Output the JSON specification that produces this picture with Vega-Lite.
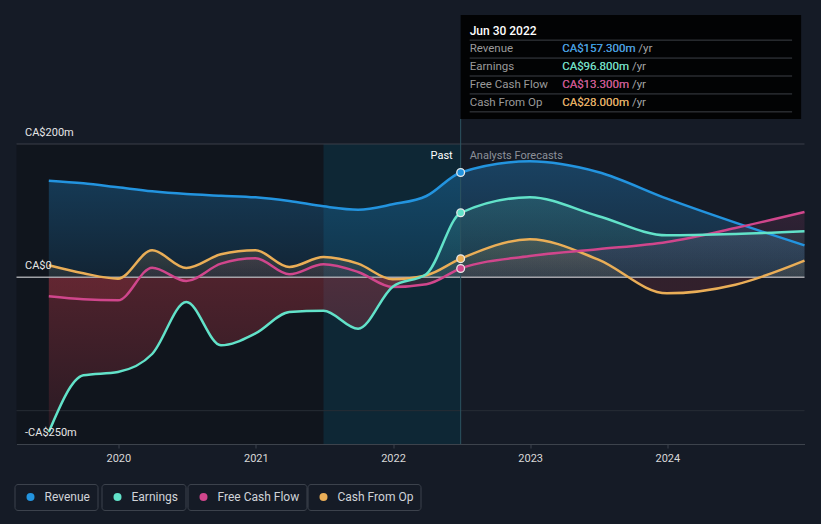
{
  "$schema": "https://vega.github.io/schema/vega-lite/v6.json",
  "autosize": {"type": "pad"},
  "padding": {"left": 13.5, "top": 15, "right": 17, "bottom": 13},
  "background": "#151b26",
  "bounds": "flush",
  "spacing": 25,
  "datasets": {
    "main": [
      {"series": "Revenue", "date": "2019-06-30", "value": 145},
      {"series": "Revenue", "date": "2019-09-30", "value": 141},
      {"series": "Revenue", "date": "2019-12-31", "value": 135},
      {"series": "Revenue", "date": "2020-03-31", "value": 129},
      {"series": "Revenue", "date": "2020-06-30", "value": 125},
      {"series": "Revenue", "date": "2020-09-30", "value": 122.5},
      {"series": "Revenue", "date": "2020-12-31", "value": 120},
      {"series": "Revenue", "date": "2021-03-31", "value": 114.5},
      {"series": "Revenue", "date": "2021-06-30", "value": 106.5},
      {"series": "Revenue", "date": "2021-09-30", "value": 101.5},
      {"series": "Revenue", "date": "2021-12-31", "value": 109.5},
      {"series": "Revenue", "date": "2022-03-31", "value": 122},
      {"series": "Revenue", "date": "2022-06-30", "value": 157.3},
      {"series": "Revenue", "date": "2022-12-31", "value": 174},
      {"series": "Revenue", "date": "2023-06-30", "value": 158},
      {"series": "Revenue", "date": "2023-12-31", "value": 118},
      {"series": "Revenue", "date": "2024-06-30", "value": 82},
      {"series": "Revenue", "date": "2024-12-31", "value": 48},
      {"series": "Earnings", "date": "2019-06-30", "value": -232},
      {"series": "Earnings", "date": "2019-09-30", "value": -147},
      {"series": "Earnings", "date": "2019-12-31", "value": -142},
      {"series": "Earnings", "date": "2020-03-31", "value": -115},
      {"series": "Earnings", "date": "2020-06-30", "value": -37},
      {"series": "Earnings", "date": "2020-09-30", "value": -102},
      {"series": "Earnings", "date": "2020-12-31", "value": -84},
      {"series": "Earnings", "date": "2021-03-31", "value": -52},
      {"series": "Earnings", "date": "2021-06-30", "value": -50},
      {"series": "Earnings", "date": "2021-09-30", "value": -77},
      {"series": "Earnings", "date": "2021-12-31", "value": -14},
      {"series": "Earnings", "date": "2022-03-31", "value": 5},
      {"series": "Earnings", "date": "2022-06-30", "value": 96.8},
      {"series": "Earnings", "date": "2022-12-31", "value": 120},
      {"series": "Earnings", "date": "2023-06-30", "value": 92},
      {"series": "Earnings", "date": "2023-12-31", "value": 63},
      {"series": "Earnings", "date": "2024-06-30", "value": 65},
      {"series": "Earnings", "date": "2024-12-31", "value": 69},
      {"series": "Free Cash Flow", "date": "2019-06-30", "value": -28.5},
      {"series": "Free Cash Flow", "date": "2019-09-30", "value": -33},
      {"series": "Free Cash Flow", "date": "2019-12-31", "value": -34.5},
      {"series": "Free Cash Flow", "date": "2020-03-31", "value": 14.5},
      {"series": "Free Cash Flow", "date": "2020-06-30", "value": -5.5},
      {"series": "Free Cash Flow", "date": "2020-09-30", "value": 20.5},
      {"series": "Free Cash Flow", "date": "2020-12-31", "value": 28.5},
      {"series": "Free Cash Flow", "date": "2021-03-31", "value": 4.5},
      {"series": "Free Cash Flow", "date": "2021-06-30", "value": 19.5},
      {"series": "Free Cash Flow", "date": "2021-09-30", "value": 8},
      {"series": "Free Cash Flow", "date": "2021-12-31", "value": -14.5},
      {"series": "Free Cash Flow", "date": "2022-03-31", "value": -10.5},
      {"series": "Free Cash Flow", "date": "2022-06-30", "value": 13.3},
      {"series": "Free Cash Flow", "date": "2022-12-31", "value": 32},
      {"series": "Free Cash Flow", "date": "2023-06-30", "value": 42},
      {"series": "Free Cash Flow", "date": "2023-12-31", "value": 53},
      {"series": "Free Cash Flow", "date": "2024-06-30", "value": 74},
      {"series": "Free Cash Flow", "date": "2024-12-31", "value": 98},
      {"series": "Cash From Op", "date": "2019-06-30", "value": 18},
      {"series": "Cash From Op", "date": "2019-09-30", "value": 6},
      {"series": "Cash From Op", "date": "2019-12-31", "value": -2},
      {"series": "Cash From Op", "date": "2020-03-31", "value": 40.5},
      {"series": "Cash From Op", "date": "2020-06-30", "value": 14},
      {"series": "Cash From Op", "date": "2020-09-30", "value": 34.5},
      {"series": "Cash From Op", "date": "2020-12-31", "value": 40.5},
      {"series": "Cash From Op", "date": "2021-03-31", "value": 15.5},
      {"series": "Cash From Op", "date": "2021-06-30", "value": 30.5},
      {"series": "Cash From Op", "date": "2021-09-30", "value": 20.5},
      {"series": "Cash From Op", "date": "2021-12-31", "value": -3},
      {"series": "Cash From Op", "date": "2022-03-31", "value": 3},
      {"series": "Cash From Op", "date": "2022-06-30", "value": 28},
      {"series": "Cash From Op", "date": "2022-12-31", "value": 57},
      {"series": "Cash From Op", "date": "2023-06-30", "value": 27},
      {"series": "Cash From Op", "date": "2023-12-31", "value": -24},
      {"series": "Cash From Op", "date": "2024-06-30", "value": -11},
      {"series": "Cash From Op", "date": "2024-12-31", "value": 25}
    ],
    "tip": [
      {"key": "Jun 30 2022", "kind": "header", "date": "2022-06-30"},
      {"key": "Revenue", "kind": "row", "date": "2022-06-30", "num": 157.3, "value": "CA$157.300m", "display": "CA$157.300m /yr"},
      {"key": "Earnings", "kind": "row", "date": "2022-06-30", "num": 96.8, "value": "CA$96.800m", "display": "CA$96.800m /yr"},
      {"key": "Free Cash Flow", "kind": "row", "date": "2022-06-30", "num": 13.3, "value": "CA$13.300m", "display": "CA$13.300m /yr"},
      {"key": "Cash From Op", "kind": "row", "date": "2022-06-30", "num": 28, "value": "CA$28.000m", "display": "CA$28.000m /yr"}
    ]
  },
  "resolve": {"scale": {"color": "independent", "x": "independent", "y": "independent"}},
  "vconcat": [
    {
      "width": 788,
      "height": 104,
      "data": {"name": "tip"},
      "layer": [
        {
          "transform": [{"filter": "datum.kind == 'header'"}],
          "mark": {"type": "rect", "fill": "#020304"},
          "encoding": {
            "x": {"datum": {"year": 2022, "month": 6, "date": 30}, "type": "temporal", "scale": {"domain": [{"year": 2019, "month": 4, "date": 5}, {"year": 2024, "month": 12, "date": 31}]}, "axis": null, "title": null},
            "x2": {"datum": {"year": 2024, "month": 12, "date": 22}}
          }
        },
        {
          "mark": {"type": "rule", "stroke": "#3d4147", "strokeWidth": 1, "yOffset": 9, "xOffset": 9, "x2Offset": -9},
          "encoding": {
            "x": {"datum": {"year": 2022, "month": 6, "date": 30}, "type": "temporal", "axis": null, "title": null},
            "x2": {"datum": {"year": 2024, "month": 12, "date": 22}},
            "y": {"field": "key", "type": "nominal", "scale": {"type": "point", "domain": ["Jun 30 2022", "Revenue", "Earnings", "Free Cash Flow", "Cash From Op"], "padding": 0.9}, "axis": null, "title": null}
          }
        },
        {
          "transform": [{"filter": "datum.kind == 'header'"}],
          "mark": {"type": "text", "align": "left", "baseline": "middle", "dx": 9, "fill": "#ffffff", "fontSize": 12, "fontWeight": 500},
          "encoding": {
            "x": {"datum": {"year": 2022, "month": 6, "date": 30}, "type": "temporal", "axis": null, "title": null},
            "y": {"field": "key", "type": "nominal", "axis": null, "title": null},
            "text": {"field": "key"}
          }
        },
        {
          "transform": [{"filter": "datum.kind == 'row'"}],
          "mark": {"type": "text", "align": "left", "baseline": "middle", "dx": 9, "fill": "#9a9a9a", "fontSize": 11.5},
          "encoding": {
            "x": {"datum": {"year": 2022, "month": 6, "date": 30}, "type": "temporal", "axis": null, "title": null},
            "y": {"field": "key", "type": "nominal", "axis": null, "title": null},
            "text": {"field": "key"}
          }
        },
        {
          "transform": [{"filter": "datum.kind == 'row'"}],
          "mark": {"type": "text", "align": "left", "baseline": "middle", "dx": 101.5, "fill": "#a6a6a6", "fontSize": 11.5},
          "encoding": {
            "x": {"datum": {"year": 2022, "month": 6, "date": 30}, "type": "temporal", "axis": null, "title": null},
            "y": {"field": "key", "type": "nominal", "axis": null, "title": null},
            "text": {"field": "display"}
          }
        },
        {
          "transform": [{"filter": "datum.kind == 'row'"}],
          "mark": {"type": "text", "align": "left", "baseline": "middle", "dx": 101.5, "fontSize": 11.5},
          "encoding": {
            "x": {"datum": {"year": 2022, "month": 6, "date": 30}, "type": "temporal", "axis": null, "title": null},
            "y": {"field": "key", "type": "nominal", "axis": null, "title": null},
            "text": {"field": "value"},
            "color": {"field": "key", "type": "nominal", "scale": {"domain": ["Revenue", "Earnings", "Free Cash Flow", "Cash From Op"], "range": ["#2d9ae8", "#5fe0c4", "#d2428a", "#eaaa50"]}, "legend": null}
          }
        }
      ]
    },
    {
      "width": 788,
      "height": 300,
      "data": {"name": "main"},
      "resolve": {"scale": {"color": "independent"}},
      "layer": [
        {
          "data": {"values": [{}]},
          "mark": {"type": "rect", "fill": "#0b0f14", "opacity": 0.45},
          "encoding": {
            "x": {"datum": {"year": 2019, "month": 4, "date": 5}, "type": "temporal", "title": null,
              "scale": {"domain": [{"year": 2019, "month": 4, "date": 5}, {"year": 2024, "month": 12, "date": 31}]},
              "axis": {"format": "%Y", "tickCount": {"interval": "year", "step": 1}, "grid": false, "domainColor": "#3d434c", "tickColor": "#3d434c", "tickSize": 4, "labelColor": "#d8d8d8", "labelFontSize": 11, "labelPadding": 4, "labelFlush": false, "title": null}},
            "x2": {"datum": {"year": 2021, "month": 6, "date": 30}}
          }
        },
        {
          "data": {"values": [{}]},
          "mark": {"type": "rect", "fill": "#00465a", "opacity": 0.3},
          "encoding": {
            "x": {"datum": {"year": 2021, "month": 6, "date": 30}, "type": "temporal", "title": null},
            "x2": {"datum": {"year": 2022, "month": 6, "date": 30}}
          }
        },
        {
          "data": {"values": [{}]},
          "mark": {"type": "rule", "stroke": "#3a3f48", "strokeWidth": 1},
          "encoding": {"y": {"datum": 200, "type": "quantitative", "title": null}}
        },
        {
          "data": {"values": [{}]},
          "mark": {"type": "rule", "stroke": "#272c35", "strokeWidth": 1},
          "encoding": {"y": {"datum": -200, "type": "quantitative", "title": null}}
        },
        {
          "transform": [{"filter": "datum.series == 'Revenue'"}],
          "mark": {"type": "area", "interpolate": "monotone", "color": {"gradient": "linear", "x1": 0, "y1": 0, "x2": 0, "y2": 1, "stops": [{"offset": 0, "color": "rgba(35,148,223,0.32)"}, {"offset": 1, "color": "rgba(35,148,223,0.12)"}]}},
          "encoding": {
            "x": {"field": "date", "type": "temporal", "title": null},
            "y": {"field": "value", "type": "quantitative", "title": null,
              "scale": {"domain": [-250, 200], "nice": false, "zero": false},
              "axis": {"values": [200, 0, -250], "labelExpr": "datum.value == 0 ? 'CA$0' : (datum.value < 0 ? '-CA$' + abs(datum.value) + 'm' : 'CA$' + datum.value + 'm')", "grid": false, "domain": false, "ticks": false, "tickSize": 0, "labelAlign": "left", "labelPadding": -8, "labelBaseline": "middle", "labelOffset": -12, "labelColor": "#e6e6e6", "labelFontSize": 11, "labelOverlap": false, "labelFlush": false, "title": null, "zindex": 1}},
            "y2": {"datum": 0}
          }
        },
        {
          "transform": [{"filter": "datum.series == 'Earnings'"}],
          "mark": {"type": "area", "interpolate": "monotone", "color": {"gradient": "linear", "x1": 0, "y1": 0, "x2": 0, "y2": 1, "stops": [{"offset": 0, "color": "rgba(98,226,201,0.16)"}, {"offset": 0.341, "color": "rgba(98,226,201,0.07)"}, {"offset": 0.341, "color": "rgba(200,60,75,0.34)"}, {"offset": 1, "color": "rgba(200,60,75,0.14)"}]}},
          "encoding": {
            "x": {"field": "date", "type": "temporal", "title": null},
            "y": {"field": "value", "type": "quantitative", "title": null},
            "y2": {"datum": 0}
          }
        },
        {
          "transform": [{"filter": "datum.series == 'Free Cash Flow'"}],
          "mark": {"type": "area", "interpolate": "monotone", "color": {"gradient": "linear", "x1": 0, "y1": 0, "x2": 0, "y2": 1, "stops": [{"offset": 0, "color": "rgba(211,77,142,0.14)"}, {"offset": 0.742, "color": "rgba(211,77,142,0.06)"}, {"offset": 0.742, "color": "rgba(200,60,75,0.16)"}, {"offset": 1, "color": "rgba(200,60,75,0.16)"}]}},
          "encoding": {
            "x": {"field": "date", "type": "temporal", "title": null},
            "y": {"field": "value", "type": "quantitative", "title": null},
            "y2": {"datum": 0}
          }
        },
        {
          "transform": [{"filter": "datum.series == 'Cash From Op'"}],
          "mark": {"type": "area", "interpolate": "monotone", "color": {"gradient": "linear", "x1": 0, "y1": 0, "x2": 0, "y2": 1, "stops": [{"offset": 0, "color": "rgba(233,175,91,0.18)"}, {"offset": 0.704, "color": "rgba(233,175,91,0.08)"}, {"offset": 0.704, "color": "rgba(200,60,75,0.16)"}, {"offset": 1, "color": "rgba(200,60,75,0.16)"}]}},
          "encoding": {
            "x": {"field": "date", "type": "temporal", "title": null},
            "y": {"field": "value", "type": "quantitative", "title": null},
            "y2": {"datum": 0}
          }
        },
        {
          "data": {"values": [{}]},
          "mark": {"type": "rule", "stroke": "#b8babe", "strokeWidth": 1.5, "opacity": 0.85},
          "encoding": {"y": {"datum": 0, "type": "quantitative", "title": null}}
        },
        {
          "data": {"values": [{}]},
          "mark": {"type": "rule", "stroke": "#2c5360", "strokeWidth": 1, "yOffset": -25},
          "encoding": {
            "x": {"datum": {"year": 2022, "month": 6, "date": 30}, "type": "temporal", "title": null},
            "y": {"datum": 200, "type": "quantitative", "title": null},
            "y2": {"datum": -250}
          }
        },
        {
          "transform": [{"filter": "datum.series == 'Revenue'"}],
          "mark": {"type": "line", "interpolate": "monotone", "stroke": "#2394df", "strokeWidth": 2.5},
          "encoding": {
            "x": {"field": "date", "type": "temporal", "title": null},
            "y": {"field": "value", "type": "quantitative", "title": null}
          }
        },
        {
          "transform": [{"filter": "datum.series == 'Cash From Op'"}],
          "mark": {"type": "line", "interpolate": "monotone", "stroke": "#eaae57", "strokeWidth": 2.5},
          "encoding": {
            "x": {"field": "date", "type": "temporal", "title": null},
            "y": {"field": "value", "type": "quantitative", "title": null}
          }
        },
        {
          "transform": [{"filter": "datum.series == 'Free Cash Flow'"}],
          "mark": {"type": "line", "interpolate": "monotone", "stroke": "#d0468c", "strokeWidth": 2.5},
          "encoding": {
            "x": {"field": "date", "type": "temporal", "title": null},
            "y": {"field": "value", "type": "quantitative", "title": null}
          }
        },
        {
          "transform": [{"filter": "datum.series == 'Earnings'"}],
          "mark": {"type": "line", "interpolate": "monotone", "stroke": "#62e2c9", "strokeWidth": 2.5},
          "encoding": {
            "x": {"field": "date", "type": "temporal", "title": null},
            "y": {"field": "value", "type": "quantitative", "title": null}
          }
        },
        {
          "data": {"name": "tip"},
          "transform": [{"filter": "datum.key == 'Revenue'"}],
          "mark": {"type": "point", "filled": true, "size": 60, "opacity": 1, "stroke": "#e8e8e8", "strokeWidth": 1.3},
          "encoding": {
            "x": {"field": "date", "type": "temporal", "title": null},
            "y": {"field": "num", "type": "quantitative", "title": null},
            "color": {"field": "key", "type": "nominal", "scale": {"domain": ["Revenue"], "range": ["#2394df"]}, "legend": {"orient": "none", "legendX": -2, "legendY": 340, "title": null}}
          }
        },
        {
          "data": {"name": "tip"},
          "transform": [{"filter": "datum.key == 'Earnings'"}],
          "mark": {"type": "point", "filled": true, "size": 60, "opacity": 1, "stroke": "#e8e8e8", "strokeWidth": 1.3},
          "encoding": {
            "x": {"field": "date", "type": "temporal", "title": null},
            "y": {"field": "num", "type": "quantitative", "title": null},
            "color": {"field": "key", "type": "nominal", "scale": {"domain": ["Earnings"], "range": ["#62e2c9"]}, "legend": {"orient": "none", "legendX": 85, "legendY": 340, "title": null}}
          }
        },
        {
          "data": {"name": "tip"},
          "transform": [{"filter": "datum.key == 'Free Cash Flow'"}],
          "mark": {"type": "point", "filled": true, "size": 60, "opacity": 1, "stroke": "#e8e8e8", "strokeWidth": 1.3},
          "encoding": {
            "x": {"field": "date", "type": "temporal", "title": null},
            "y": {"field": "num", "type": "quantitative", "title": null},
            "color": {"field": "key", "type": "nominal", "scale": {"domain": ["Free Cash Flow"], "range": ["#d0468c"]}, "legend": {"orient": "none", "legendX": 171, "legendY": 340, "title": null}}
          }
        },
        {
          "data": {"name": "tip"},
          "transform": [{"filter": "datum.key == 'Cash From Op'"}],
          "mark": {"type": "point", "filled": true, "size": 60, "opacity": 1, "stroke": "#e8e8e8", "strokeWidth": 1.3},
          "encoding": {
            "x": {"field": "date", "type": "temporal", "title": null},
            "y": {"field": "num", "type": "quantitative", "title": null},
            "color": {"field": "key", "type": "nominal", "scale": {"domain": ["Cash From Op"], "range": ["#eaae57"]}, "legend": {"orient": "none", "legendX": 291, "legendY": 340, "title": null}}
          }
        },
        {
          "data": {"values": [{}]},
          "mark": {"type": "text", "text": "Past", "align": "right", "baseline": "middle", "dx": -8, "dy": 12, "fill": "#ffffff", "fontSize": 11},
          "encoding": {
            "x": {"datum": {"year": 2022, "month": 6, "date": 30}, "type": "temporal", "title": null},
            "y": {"datum": 200, "type": "quantitative", "title": null}
          }
        },
        {
          "data": {"values": [{}]},
          "mark": {"type": "text", "text": "Analysts Forecasts", "align": "left", "baseline": "middle", "dx": 9, "dy": 12, "fill": "#8c9099", "fontSize": 11},
          "encoding": {
            "x": {"datum": {"year": 2022, "month": 6, "date": 30}, "type": "temporal", "title": null},
            "y": {"datum": 200, "type": "quantitative", "title": null}
          }
        }
      ]
    }
  ],
  "config": {
    "background": "#151b26",
    "view": {"stroke": null},
    "font": "Roboto",
    "legend": {
      "symbolType": "circle",
      "symbolSize": 64,
      "symbolStrokeWidth": 0,
      "symbolOffset": 3,
      "labelColor": "#d0d3d8",
      "labelFontSize": 12,
      "labelFont": "Roboto",
      "labelOffset": 8,
      "padding": 7,
      "strokeColor": "#3c424c",
      "fillColor": "#151b26",
      "cornerRadius": 3
    }
  }
}
